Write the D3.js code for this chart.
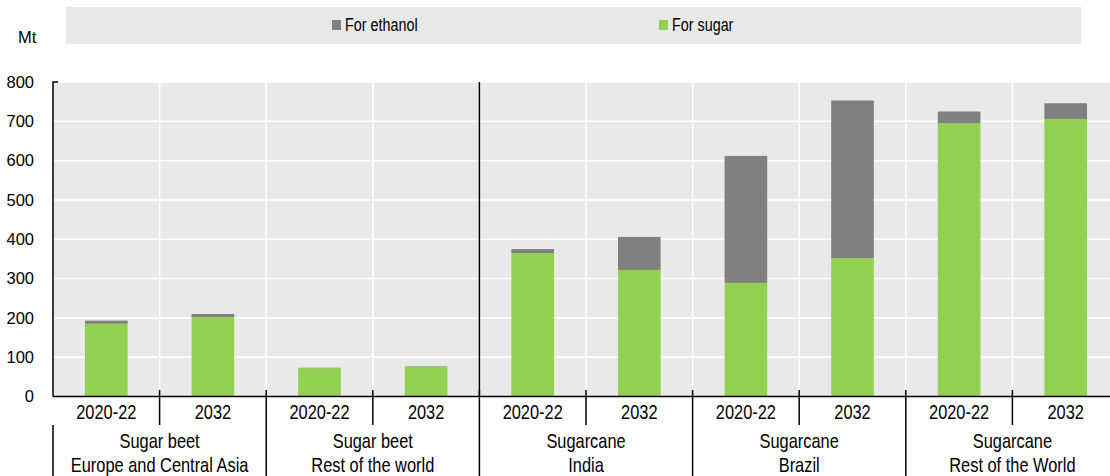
<!DOCTYPE html>
<html>
<head>
<meta charset="utf-8">
<script src="https://cdn.jsdelivr.net/npm/d3@7"></script>
<style>
  body { margin: 0; background: #fff; }
  text { font-family: "Liberation Sans", Arial, sans-serif; fill: #000; }
</style>
</head>
<body>
<div id="chart"></div>
<script>
// chart values
var crops = ["Sugar beet", "Sugar beet", "Sugarcane", "Sugarcane", "Sugarcane"];
var regions = ["Europe and Central Asia", "Rest of the world", "India", "Brazil", "Rest of the World"];
var years = ["2020-22", "2032"];
var forSugar = [185, 202, 72, 76, 365, 322, 289, 352, 695, 706];
var forEthanol = [8, 8, 1, 1, 10, 84, 323, 401, 30, 40];
var yTicks = [0, 100, 200, 300, 400, 500, 600, 700, 800];
var seriesNames = ["For ethanol", "For sugar"];

((() => {
  var width = 1110, height = 476;
  var left = 53, right = 1119, top = 82, bottom = 396.5;
  var narrow = 0.82; // squeeze to mimic a condensed face

  var svg = d3.select("#chart").append("svg")
    .attr("width", width)
    .attr("height", height);

  // one row per bar
  var rows = [];
  regions.forEach(function (r, g) {
    years.forEach(function (y, j) {
      var i = g * 2 + j;
      rows.push({ key: g + "|" + y, group: g, year: y, sugar: forSugar[i], ethanol: forEthanol[i] });
    });
  });

  var slot = d3.scaleBand()
    .domain(rows.map(function (d) { return d.key; }))
    .range([left, right]);

  var groupScale = d3.scaleBand()
    .domain(d3.range(regions.length))
    .range([left, right]);

  var y = d3.scaleLinear().domain([0, 800]).range([bottom, top]);

  function squeeze(x, yy) {
    return "translate(" + x + "," + yy + ") scale(" + narrow + ",1)";
  }

  // plot background
  svg.append("rect")
    .attr("x", left).attr("y", top)
    .attr("width", right - left).attr("height", bottom - top)
    .attr("fill", "#e9e9e9");

  // horizontal grid
  svg.append("g").selectAll("line")
    .data(yTicks.slice(1))
    .enter().append("line")
    .attr("x1", left).attr("x2", right)
    .attr("y1", function (d) { return y(d); })
    .attr("y2", function (d) { return y(d); })
    .attr("stroke", "#fff").attr("stroke-width", 1.5);

  // vertical grid between bars
  svg.append("g").selectAll("line")
    .data(rows.slice(1))
    .enter().append("line")
    .attr("x1", function (d) { return slot(d.key); })
    .attr("x2", function (d) { return slot(d.key); })
    .attr("y1", top).attr("y2", bottom)
    .attr("stroke", "#fff").attr("stroke-width", 1.5);

  // stacked bars
  var stack = d3.stack().keys(["sugar", "ethanol"]);
  var colors = { sugar: "#92d050", ethanol: "#808080" };
  var layers = stack(rows);

  svg.append("g").selectAll("g")
    .data(layers)
    .enter().append("g")
    .attr("fill", function (d) { return colors[d.key]; })
    .selectAll("rect")
    .data(function (d) { return d; })
    .enter().append("rect")
    .attr("x", function (d) { return slot(d.data.key) + slot.bandwidth() * 0.3; })
    .attr("width", slot.bandwidth() * 0.4)
    .attr("y", function (d) { return y(d[1]); })
    .attr("height", function (d) { return y(d[0]) - y(d[1]); });

  // black divider between beet and cane
  var divX = groupScale(2);
  svg.append("line")
    .attr("x1", divX).attr("x2", divX)
    .attr("y1", top).attr("y2", bottom)
    .attr("stroke", "#000").attr("stroke-width", 1.5);

  // y axis
  svg.append("path")
    .attr("d", "M" + (left + 5) + "," + top + "H" + left + "V" + bottom)
    .attr("fill", "none").attr("stroke", "#000").attr("stroke-width", 1.5);

  svg.append("g").selectAll("text")
    .data(yTicks)
    .enter().append("text")
    .attr("x", 34)
    .attr("y", function (d) { return y(d); })
    .attr("dy", "0.35em")
    .attr("text-anchor", "end")
    .style("font-size", "16.5px")
    .text(function (d) { return d; });

  svg.append("text")
    .attr("x", 18).attr("y", 43)
    .style("font-size", "16.5px")
    .text("Mt");

  // x axis line
  svg.append("line")
    .attr("x1", left).attr("x2", right)
    .attr("y1", bottom).attr("y2", bottom)
    .attr("stroke", "#000").attr("stroke-width", 1.5);

  // year ticks inside each group
  svg.append("g").selectAll("line")
    .data(rows.filter(function (d) { return d.year === years[1]; }))
    .enter().append("line")
    .attr("x1", function (d) { return slot(d.key); })
    .attr("x2", function (d) { return slot(d.key); })
    .attr("y1", 390).attr("y2", 425)
    .attr("stroke", "#000").attr("stroke-width", 1.5);

  // group separators
  svg.append("g").selectAll("line")
    .data(d3.range(1, regions.length))
    .enter().append("line")
    .attr("x1", function (d) { return groupScale(d); })
    .attr("x2", function (d) { return groupScale(d); })
    .attr("y1", 390).attr("y2", height)
    .attr("stroke", "#000").attr("stroke-width", 1.5);

  svg.append("line")
    .attr("x1", left).attr("x2", left)
    .attr("y1", 425).attr("y2", height)
    .attr("stroke", "#000").attr("stroke-width", 1.5);

  // year labels
  svg.append("g").selectAll("text")
    .data(rows)
    .enter().append("text")
    .attr("transform", function (d) { return squeeze(slot(d.key) + slot.bandwidth() / 2, 419); })
    .attr("text-anchor", "middle")
    .style("font-size", "20px")
    .text(function (d) { return d.year; });

  // group labels
  var gx = function (d) { return groupScale(d) + groupScale.bandwidth() / 2; };
  var gl = svg.append("g").selectAll("g")
    .data(d3.range(regions.length))
    .enter().append("g")
    .attr("transform", function (d) { return squeeze(gx(d), 0); });
  gl.append("text")
    .attr("y", 448)
    .attr("text-anchor", "middle")
    .style("font-size", "20px")
    .text(function (d) { return crops[d]; });
  gl.append("text")
    .attr("y", 472)
    .attr("text-anchor", "middle")
    .style("font-size", "20px")
    .text(function (d) { return regions[d]; });

  // legend
  svg.append("rect")
    .attr("x", 66).attr("y", 7)
    .attr("width", 1015).attr("height", 37)
    .attr("fill", "#e9e9e9");

  var legendX = [332, 659];
  var legend = svg.append("g").selectAll("g")
    .data(seriesNames)
    .enter().append("g")
    .attr("transform", function (d, i) { return "translate(" + legendX[i] + ",20)"; });
  legend.append("rect")
    .attr("width", 9).attr("height", 10)
    .attr("fill", function (d, i) { return i === 0 ? colors.ethanol : colors.sugar; });
  legend.append("text")
    .attr("transform", squeeze(13, 11))
    .style("font-size", "17.5px")
    .text(function (d) { return d; });
})());
</script>
</body>
</html>
